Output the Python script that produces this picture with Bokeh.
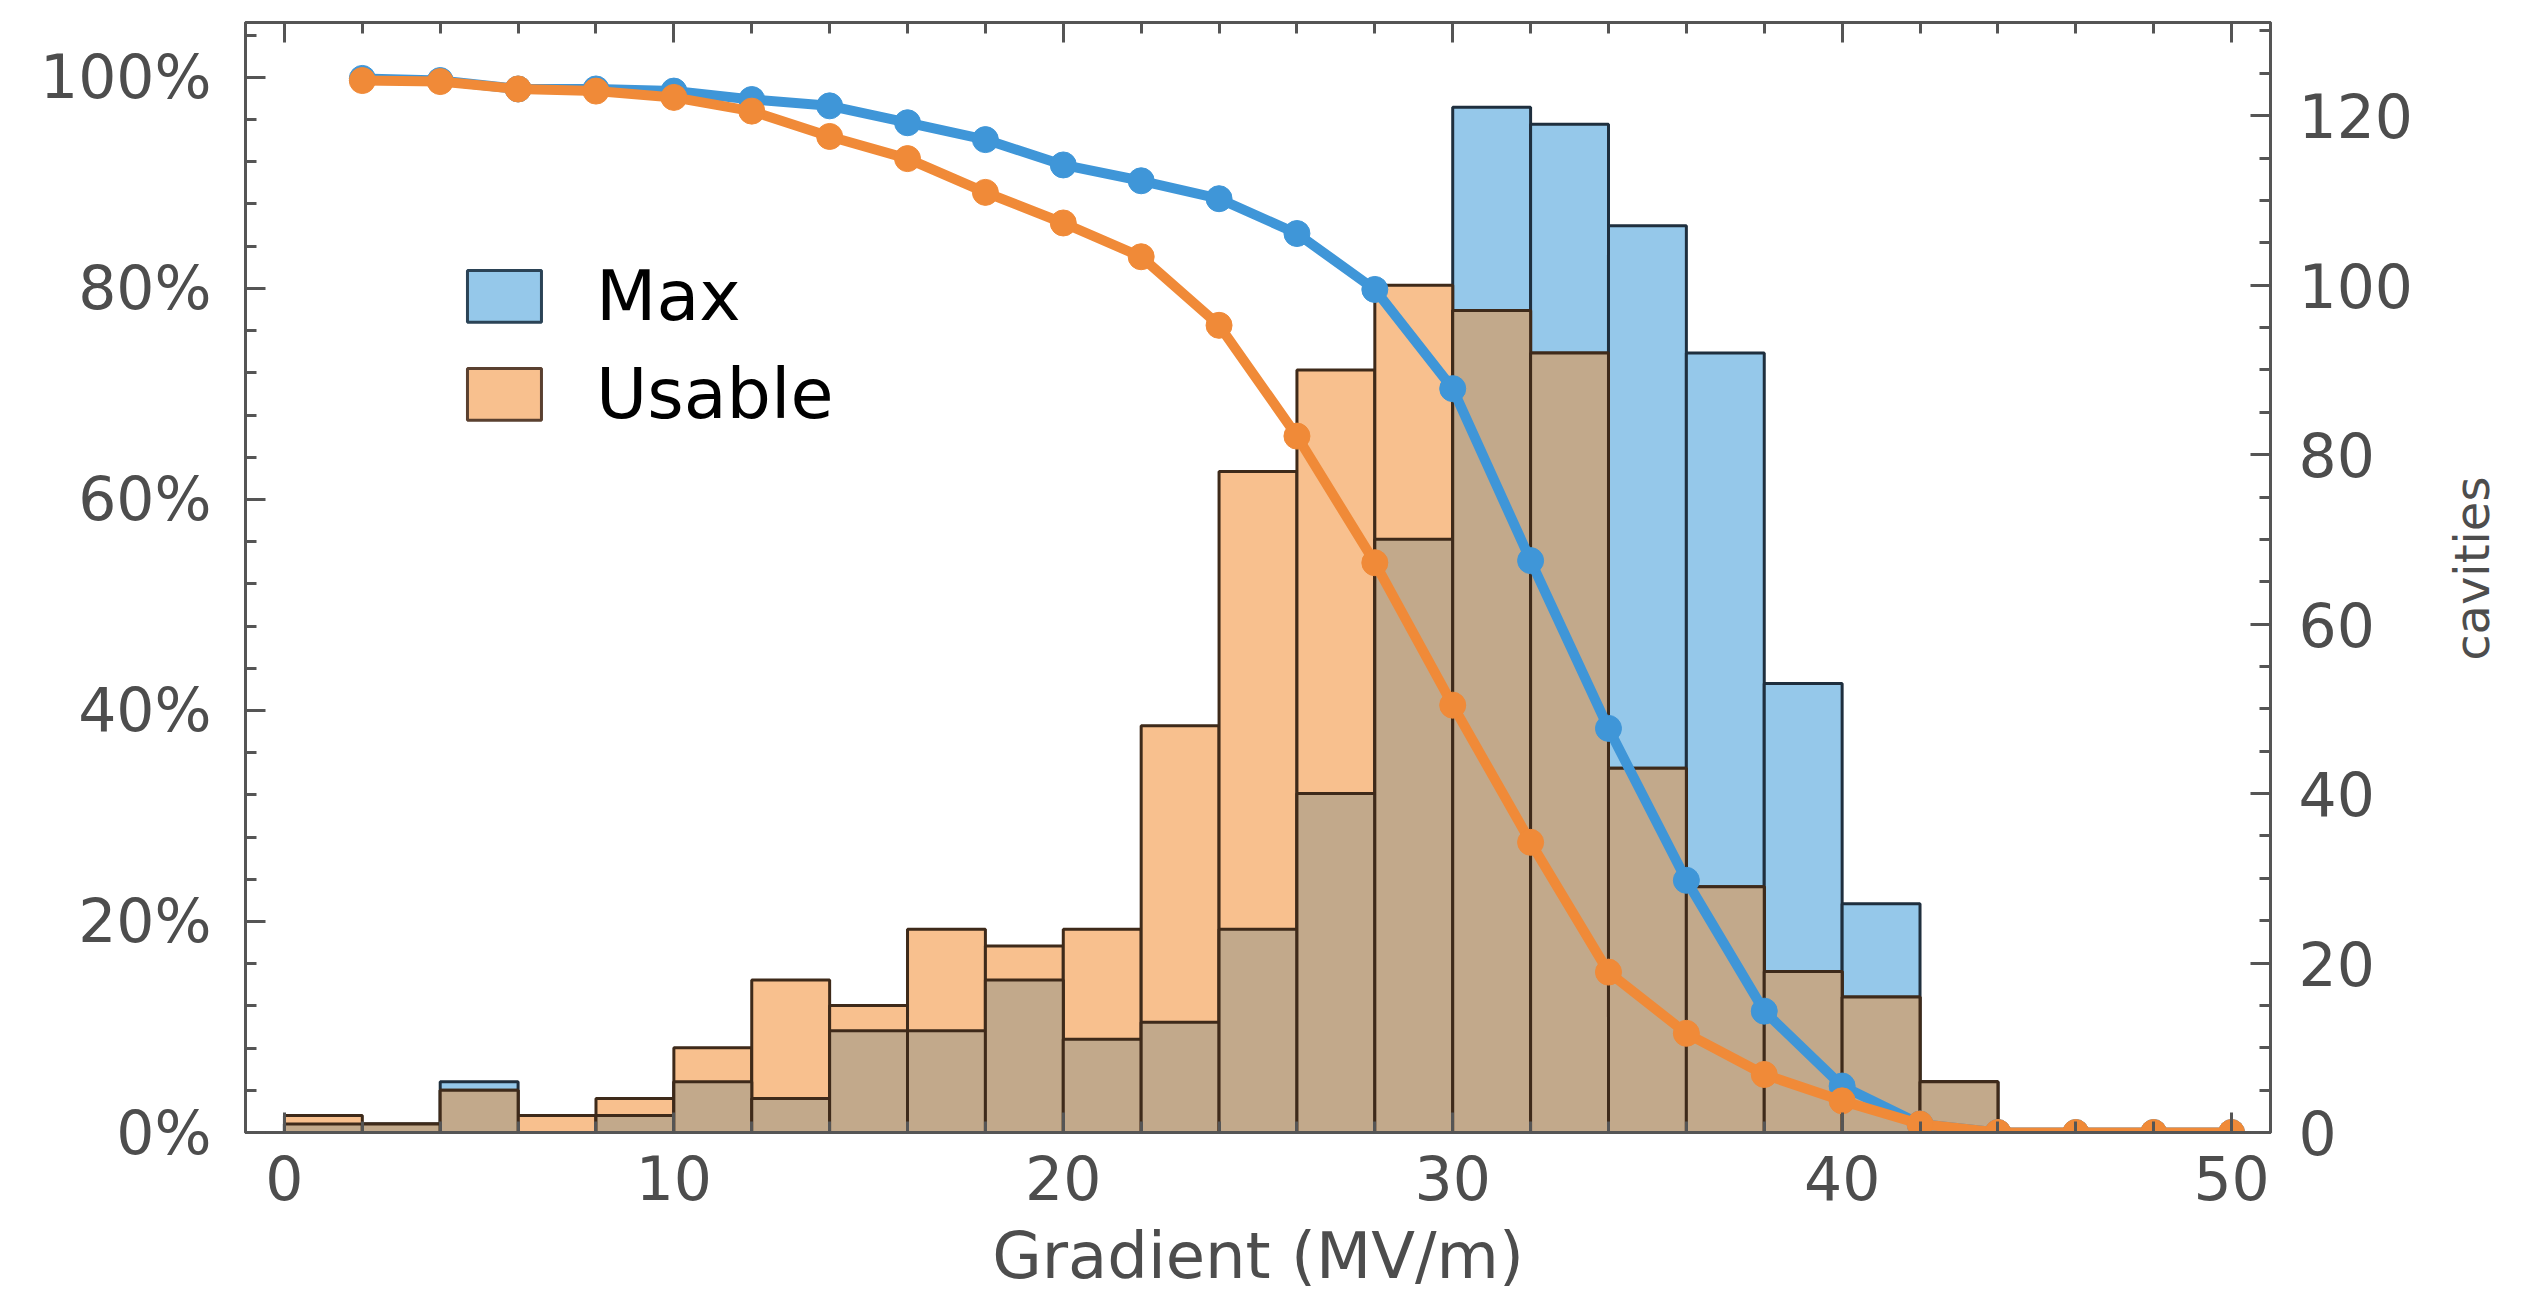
import math
from bokeh.plotting import figure
from bokeh.models import Range1d, LinearAxis, SingleIntervalTicker, FixedTicker, CustomJSTickFormatter
from bokeh.embed import file_html
from bokeh.resources import INLINE
from bokeh.core.properties import value

# ---- data ----
bin_left = [0, 2, 4, 6, 8, 10, 12, 14, 16, 18, 20, 22, 24, 26, 28, 30, 32, 34, 36, 38, 40, 42]
bin_width = 2
max_counts = [1, 1, 6, 0, 2, 6, 4, 12, 12, 18, 11, 13, 24, 40, 70, 121, 119, 107, 92, 53, 27, 6]
usable_counts = [2, 1, 5, 2, 4, 10, 18, 15, 24, 22, 24, 48, 78, 90, 100, 97, 92, 43, 29, 19, 16, 6]

curve_x = [2, 4, 6, 8, 10, 12, 14, 16, 18, 20, 22, 24, 26, 28, 30, 32, 34, 36, 38, 40, 42, 44, 46, 48, 50]
max_pct = [99.9, 99.7, 98.9, 98.9, 98.7, 97.9, 97.3, 95.7, 94.1, 91.7, 90.2, 88.5, 85.2, 79.9,
           70.5, 54.2, 38.3, 23.9, 11.5, 4.4, 0.8, 0.0, 0.0, 0.0, 0.0]
usable_pct = [99.7, 99.6, 98.9, 98.7, 98.1, 96.8, 94.4, 92.3, 89.1, 86.2, 83.0, 76.5, 66.0, 54.0,
              40.5, 27.5, 15.2, 9.4, 5.5, 3.0, 0.8, 0.0, 0.0, 0.0, 0.0]

series_names = ["Max", "Usable"]
x_label = "Gradient (MV/m)"
right_label = "cavities"

# ---- styling ----
FONT = "DejaVu Sans"
AX_COL = "#555555"
TXT_COL = "#4d4d4d"
BLUE_FILL = "#95C8EA"
BLUE_EDGE = "#1f2f3e"
ORANGE_FILL = "#F8C08E"
ORANGE_EDGE = "#3e2a1a"
OVER_FILL = "#C2A98B"
BLUE_LINE = "#3F96D8"
ORANGE_LINE = "#F08A38"

p = figure(frame_width=2025, frame_height=1110,
           x_range=Range1d(-1, 51), y_range=Range1d(0, 105.2),
           output_backend="svg", toolbar_location=None,
           min_border_left=245, min_border_top=22, min_border_right=255, min_border_bottom=5)
p.extra_y_ranges = {"cnt": Range1d(0, 131)}
p.xgrid.visible = False
p.ygrid.visible = False
p.outline_line_color = AX_COL
p.outline_line_width = 3
p.outline_line_alpha = 1.0
p.background_fill_color = "white"
p.border_fill_color = "white"


def style(ax, size="60px"):
    ax.axis_line_color = AX_COL
    ax.axis_line_width = 3
    ax.major_tick_line_color = AX_COL
    ax.major_tick_line_width = 3
    ax.major_tick_in = 20
    ax.major_tick_out = 0
    ax.minor_tick_line_color = AX_COL
    ax.minor_tick_line_width = 3
    ax.minor_tick_in = 11
    ax.minor_tick_out = 0
    ax.major_label_text_font = FONT
    ax.major_label_text_font_size = size
    ax.major_label_text_color = TXT_COL
    ax.axis_label_text_font = FONT
    ax.axis_label_text_font_style = "normal"
    ax.axis_label_text_color = TXT_COL


# bottom axis
xax = p.xaxis[0]
xax.ticker = SingleIntervalTicker(interval=10, num_minor_ticks=5)
style(xax)
xax.major_label_standoff = 22
xax.axis_label = x_label
xax.axis_label_text_font_size = "64px"
xax.axis_label_standoff = 16

# left axis
yax = p.yaxis[0]
yax.ticker = SingleIntervalTicker(interval=20, num_minor_ticks=5)
yax.formatter = CustomJSTickFormatter(code="return tick.toFixed(0) + '%';")
style(yax)
yax.major_label_standoff = 34

# top axis (ticks only, empty labels)
tax = LinearAxis(ticker=SingleIntervalTicker(interval=10, num_minor_ticks=5),
                 formatter=CustomJSTickFormatter(code="return '';"))
style(tax)
tax.major_label_standoff = 0
p.add_layout(tax, "above")

# right axis (counts)
rax = LinearAxis(y_range_name="cnt", ticker=SingleIntervalTicker(interval=20, num_minor_ticks=4))
style(rax)
rax.major_label_standoff = 28
p.add_layout(rax, "right")

# right axis title as a rotated label reading bottom-to-top
title_axis = LinearAxis(ticker=FixedTicker(ticks=[44.7], minor_ticks=[]),
                        major_label_overrides={44.7: right_label})
title_axis.axis_line_color = None
title_axis.major_tick_line_color = None
title_axis.minor_tick_line_color = None
title_axis.major_tick_in = 0
title_axis.major_tick_out = 0
title_axis.major_label_orientation = math.pi / 2
title_axis.major_label_text_font = FONT
title_axis.major_label_text_font_size = "48px"
title_axis.major_label_text_color = TXT_COL
title_axis.major_label_standoff = 56
p.add_layout(title_axis, "right")

# ---- histogram bars ----
rights = [b + bin_width for b in bin_left]
overlap = [min(a, b) for a, b in zip(max_counts, usable_counts)]
zeros = [0] * len(bin_left)

p.quad(left=bin_left, right=rights, bottom=zeros, top=max_counts, y_range_name="cnt",
       fill_color=BLUE_FILL, line_color=BLUE_EDGE, line_width=3)
p.quad(left=bin_left, right=rights, bottom=zeros, top=usable_counts, y_range_name="cnt",
       fill_color=ORANGE_FILL, line_color=ORANGE_EDGE, line_width=3)
p.quad(left=bin_left, right=rights, bottom=zeros, top=overlap, y_range_name="cnt",
       fill_color=OVER_FILL, line_color=ORANGE_EDGE, line_width=3)

# ---- cumulative curves ----
p.line(curve_x, max_pct, line_color=BLUE_LINE, line_width=10)
p.scatter(curve_x, max_pct, size=26, fill_color=BLUE_LINE, line_color=BLUE_LINE)
p.line(curve_x, usable_pct, line_color=ORANGE_LINE, line_width=10)
p.scatter(curve_x, usable_pct, size=26, fill_color=ORANGE_LINE, line_color=ORANGE_LINE)

# ---- legend (manual) ----
p.quad(left=[4.7], right=[6.6], bottom=[76.8], top=[81.7],
       fill_color=BLUE_FILL, line_color="#2b4356", line_width=3)
p.quad(left=[4.7], right=[6.6], bottom=[67.5], top=[72.4],
       fill_color=ORANGE_FILL, line_color="#5a4030", line_width=3)
p.text(x=[8.0, 8.0], y=[79.25, 69.95], text=series_names,
       text_font=value(FONT), text_font_size="70px", text_color="black",
       text_baseline="middle", text_align="left")

open("out.html", "w").write(file_html(p, INLINE))
